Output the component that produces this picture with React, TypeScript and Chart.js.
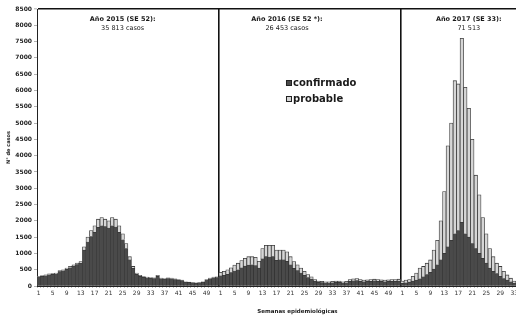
import { useEffect, useRef } from "react";
import { Chart, registerables } from "chart.js";

Chart.register(...registerables);

// ---- data ----
const weeksPerYear = [52, 52, 33];
const panelTitles = ["Año 2015 (SE 52):", "Año 2016 (SE 52 *):", "Año 2017 (SE 33):"];
const panelTotals = ["35 813 casos", "26 453 casos", "71 513"];
const legendLabels = ["confirmado", "probable"];
const yMax = 8500;
const yStep = 500;

const confirmado2015 = [280, 300, 315, 345, 355, 370, 440, 465, 515, 560, 610, 655, 700, 1100, 1350, 1520, 1650, 1800, 1850, 1820, 1780, 1850, 1810, 1650, 1420, 1150, 800, 540, 360, 300, 265, 245, 240, 230, 300, 220, 210, 230, 220, 200, 180, 165, 120, 110, 100, 90, 100, 120, 185, 220, 250, 255];
const probable2015 = [20, 20, 25, 25, 25, 30, 30, 35, 35, 40, 40, 45, 50, 100, 150, 180, 200, 250, 250, 230, 220, 250, 240, 200, 180, 150, 100, 60, 40, 30, 25, 25, 20, 20, 30, 20, 20, 20, 20, 20, 20, 15, 10, 10, 10, 10, 10, 10, 15, 20, 20, 25];

const confirmado2016 = [310, 330, 360, 410, 460, 500, 560, 610, 640, 650, 630, 550, 830, 900, 890, 900, 790, 800, 800, 760, 650, 540, 470, 400, 330, 260, 210, 150, 110, 105, 95, 95, 100, 110, 110, 95, 100, 145, 160, 170, 145, 130, 140, 145, 155, 145, 140, 130, 140, 145, 145, 150];
const probable2016 = [110, 120, 140, 150, 180, 200, 220, 240, 260, 250, 250, 210, 320, 350, 360, 350, 310, 300, 300, 290, 250, 210, 180, 150, 120, 90, 70, 50, 40, 35, 35, 35, 40, 40, 40, 35, 40, 55, 60, 60, 55, 50, 50, 55, 55, 55, 50, 50, 50, 55, 55, 60];

const confirmado2017 = [80, 100, 120, 150, 180, 220, 280, 350, 420, 520, 650, 800, 1000, 1200, 1400, 1600, 1700, 1950, 1600, 1500, 1300, 1150, 1000, 850, 700, 550, 450, 380, 300, 230, 180, 130, 90];
const probable2017 = [70, 80, 80, 150, 220, 330, 320, 350, 380, 580, 750, 1200, 1900, 3100, 3600, 4700, 4500, 5650, 4500, 3950, 3200, 2250, 1800, 1250, 900, 600, 450, 320, 300, 220, 160, 110, 60];

const confirmado = [...confirmado2015, ...confirmado2016, ...confirmado2017];
const probable = [...probable2015, ...probable2016, ...probable2017];
const weekLabels: string[] = [];
weeksPerYear.forEach((n) => {
  for (let w = 1; w <= n; w++) weekLabels.push(String(w));
});

const FONT = '"DejaVu Sans", "Liberation Sans", sans-serif';

export default function App() {
  const ref = useRef<HTMLCanvasElement>(null);

  useEffect(() => {
    document.body.style.margin = "0";
    const boundaries = [weeksPerYear[0], weeksPerYear[0] + weeksPerYear[1]];
    const panelAnchors = [24, 71, 123];

    const annot = {
      id: "annot",
      afterDraw(chart: any) {
        const { ctx, chartArea, scales } = chart;
        const x = scales.x;
        ctx.save();
        ctx.fillStyle = "#1a1a1a";
        ctx.textAlign = "center";
        ctx.textBaseline = "middle";
        panelAnchors.forEach((idx, i) => {
          const px = x.getPixelForValue(idx);
          ctx.font = `bold 6.5px ${FONT}`;
          ctx.fillText(panelTitles[i], px, chartArea.top + 10);
          ctx.font = `6.5px ${FONT}`;
          ctx.fillText(panelTotals[i], px, chartArea.top + 19);
        });
        // legend
        const lx = x.getPixelForValue(71) - 1;
        const fills = ["#4a4a4a", "#d6d6d6"];
        [0, 1].forEach((i) => {
          const cy = chartArea.top + 74 + i * 16;
          ctx.fillStyle = fills[i];
          ctx.strokeStyle = "#222";
          ctx.lineWidth = 1;
          ctx.fillRect(lx, cy - 3, 6, 6);
          ctx.strokeRect(lx + 0.5, cy - 2.5, 5, 5);
          ctx.fillStyle = "#1a1a1a";
          ctx.textAlign = "left";
          ctx.font = `bold 10px ${FONT}`;
          ctx.fillText(legendLabels[i], lx + 7, cy);
        });
        // x title
        ctx.textAlign = "center";
        ctx.font = `bold 5.5px ${FONT}`;
        ctx.fillText("Semanas epidemiológicas", x.getPixelForValue(74), chartArea.bottom + 26);
        ctx.restore();
      },
    };

    const chart = new Chart(ref.current as HTMLCanvasElement, {
      type: "bar",
      data: {
        labels: weekLabels,
        datasets: [
          {
            label: legendLabels[0],
            data: confirmado,
            backgroundColor: "#4a4a4a",
            borderColor: "#2a2a2a",
            borderWidth: 0.5,
            barPercentage: 1,
            categoryPercentage: 1,
          },
          {
            label: legendLabels[1],
            data: probable,
            backgroundColor: "#d6d6d6",
            borderColor: "#3a3a3a",
            borderWidth: 0.8,
            barPercentage: 1,
            categoryPercentage: 1,
          },
        ],
      },
      options: {
        animation: false,
        responsive: false,
        devicePixelRatio: 1,
        layout: { padding: { top: 9, left: 0, right: 0, bottom: 0 } },
        plugins: { legend: { display: false }, tooltip: { enabled: false } },
        scales: {
          x: {
            stacked: true,
            grid: {
              offset: true,
              drawOnChartArea: true,
              color: (c: any) => (boundaries.includes(c.index) ? "#111" : "rgba(0,0,0,0)"),
              lineWidth: (c: any) => (boundaries.includes(c.index) ? 1.6 : 0.5),
              drawTicks: true,
              tickLength: 2,
              tickColor: "#777",
              tickWidth: 0.5,
            },
            border: { display: true, color: "#222", width: 1 },
            ticks: {
              autoSkip: false,
              maxRotation: 0,
              minRotation: 0,
              padding: 2,
              color: "#333",
              font: { size: 6, family: FONT },
              callback: (_v: any, i: number) => ((Number(weekLabels[i]) - 1) % 4 === 0 ? weekLabels[i] : ""),
            },
            afterFit: (s: any) => {
              s.height = 35;
              s.paddingRight = 0;
              s.paddingLeft = 0;
            },
          },
          y: {
            stacked: true,
            min: 0,
            max: yMax,
            grid: {
              drawOnChartArea: true,
              color: (c: any) => (c.tick && c.tick.value === yMax ? "#111" : "rgba(0,0,0,0)"),
              lineWidth: (c: any) => (c.tick && c.tick.value === yMax ? 1.6 : 0.5),
              drawTicks: true,
              tickLength: 3,
              tickColor: "#666",
              tickWidth: 0.5,
            },
            border: { display: true, color: "#222", width: 1 },
            ticks: {
              stepSize: yStep,
              padding: 2,
              color: "#222",
              font: { size: 6, weight: "bold", family: FONT },
              callback: (v: any) => String(v),
            },
            title: {
              display: true,
              text: "N° de casos",
              color: "#222",
              font: { size: 5, weight: "bold", family: FONT },
              padding: { top: 6, bottom: 0 },
            },
            afterFit: (s: any) => {
              s.width = 37;
            },
          },
        },
      },
      plugins: [annot],
    } as any);
    return () => chart.destroy();
  }, []);

  return (
    <canvas
      ref={ref}
      width={516}
      height={321}
      style={{ display: "block", width: 516, height: 321 }}
    />
  );
}
